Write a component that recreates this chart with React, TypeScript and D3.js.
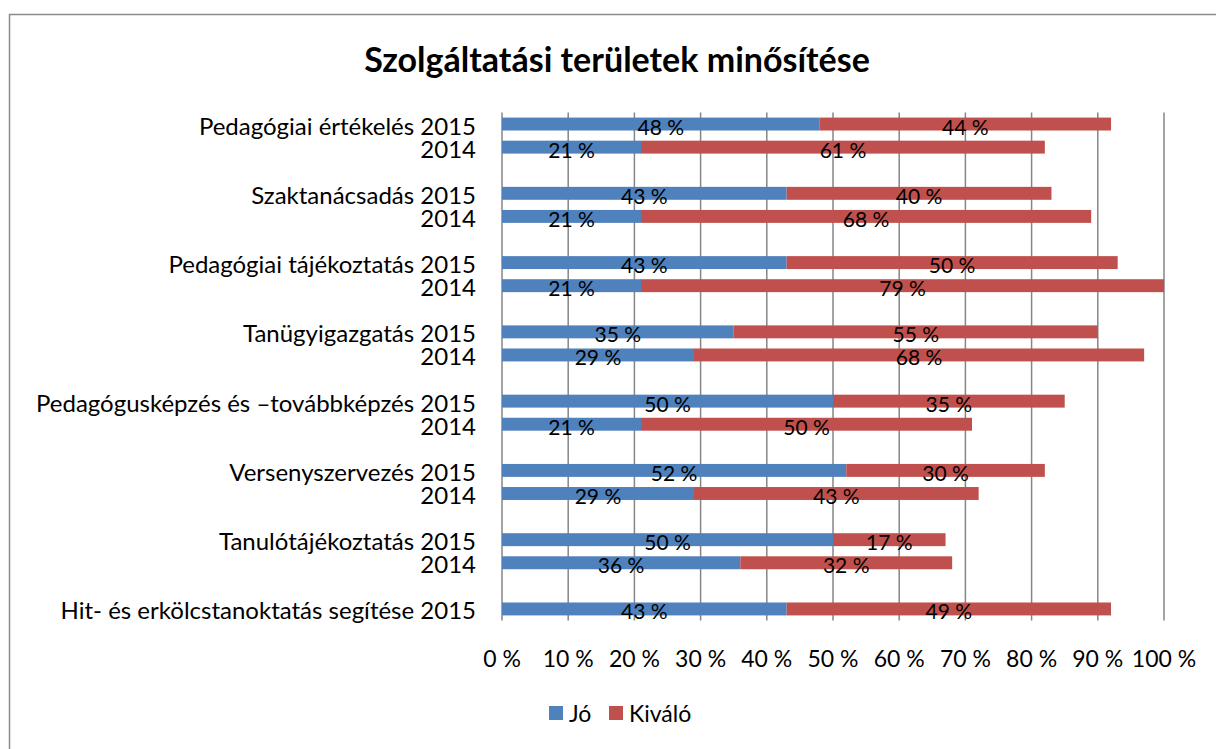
import * as d3 from "d3";
import { useRef, useEffect } from "react";

// row labels (empty strings = gap rows between groups)
const rowLabels: string[] = [
  "Pedagógiai értékelés 2015", "2014", "",
  "Szaktanácsadás 2015", "2014", "",
  "Pedagógiai tájékoztatás 2015", "2014", "",
  "Tanügyigazgatás 2015", "2014", "",
  "Pedagógusképzés és –továbbképzés 2015", "2014", "",
  "Versenyszervezés 2015", "2014", "",
  "Tanulótájékoztatás 2015", "2014", "",
  "Hit- és erkölcstanoktatás segítése 2015",
];
const jo: (number | null)[] = [
  48, 21, null, 43, 21, null, 43, 21, null, 35, 29, null, 50, 21, null, 52, 29, null, 50, 36, null, 43,
];
const kivalo: (number | null)[] = [
  44, 61, null, 40, 68, null, 50, 79, null, 55, 68, null, 35, 50, null, 30, 43, null, 17, 32, null, 49,
];
const seriesNames: string[] = ["Jó", "Kiváló"];
const seriesColors: string[] = ["#4F81BD", "#C0504D"];
const xTicks: number[] = [0, 10, 20, 30, 40, 50, 60, 70, 80, 90, 100];

export default function App() {
  const svgRef: any = useRef();

  useEffect(() => {
    const w = 1216;
    const h = 749;
    const font = "Lato, 'Noto Sans', sans-serif";
    const svg = d3.select(svgRef.current).attr("width", w).attr("height", h);
    svg.selectAll("*").remove();

    // chart frame
    svg
      .append("rect")
      .attr("x", 9.5)
      .attr("y", 14.5)
      .attr("width", 1220)
      .attr("height", 760)
      .attr("fill", "white")
      .attr("stroke", "#8c8c8c")
      .attr("stroke-width", 1.5);

    svg
      .append("text")
      .attr("x", 617)
      .attr("y", 58)
      .attr("text-anchor", "middle")
      .attr("dominant-baseline", "central")
      .style("font-family", font)
      .style("font-weight", "bold")
      .style("font-size", "34px")
      .text("Szolgáltatási területek minősítése");

    const left = 502;
    const right = 1164;
    const top = 112.5;
    const bottom = 620.5;

    const xScale = d3.scaleLinear().domain([0, 100]).range([left, right]);
    const keys = rowLabels.map((_, i) => String(i));
    const yScale = d3.scaleBand().domain(keys).range([top, bottom]).paddingInner(0.44).paddingOuter(0.22);

    // gridlines
    svg
      .append("g")
      .selectAll("line")
      .data(xTicks)
      .join("line")
      .attr("x1", (d) => xScale(d))
      .attr("x2", (d) => xScale(d))
      .attr("y1", top)
      .attr("y2", bottom)
      .attr("stroke", "#868686")
      .attr("stroke-width", 1.5);

    // stacked segments
    const rows = rowLabels.map((label, i) => ({ key: String(i), label, vals: [jo[i], kivalo[i]] }));
    const segs: any[] = [];
    rows.forEach((r) => {
      let start = 0;
      r.vals.forEach((v, s) => {
        if (v == null) return;
        segs.push({ key: r.key, s, x0: start, x1: start + v, v });
        start += v;
      });
    });

    svg
      .append("g")
      .selectAll("rect")
      .data(segs)
      .join("rect")
      .attr("x", (d) => xScale(d.x0))
      .attr("y", (d) => yScale(d.key)!)
      .attr("width", (d) => xScale(d.x1) - xScale(d.x0))
      .attr("height", yScale.bandwidth())
      .attr("fill", (d) => seriesColors[d.s]);

    svg
      .append("g")
      .selectAll("text")
      .data(segs)
      .join("text")
      .attr("x", (d) => xScale((d.x0 + d.x1) / 2))
      .attr("y", (d) => yScale(d.key)! + yScale.bandwidth() / 2 + 2)
      .attr("text-anchor", "middle")
      .attr("dominant-baseline", "central")
      .style("font-family", font)
      .style("font-size", "21px")
      .text((d) => `${d.v} %`);

    // category labels
    svg
      .append("g")
      .selectAll("text")
      .data(rows.filter((r) => r.label))
      .join("text")
      .attr("x", 476)
      .attr("y", (d) => yScale(d.key)! + yScale.bandwidth() / 2 + 1)
      .attr("text-anchor", "end")
      .attr("dominant-baseline", "central")
      .style("font-family", font)
      .style("font-size", "24px")
      .text((d) => d.label);

    // x tick labels
    svg
      .append("g")
      .selectAll("text")
      .data(xTicks)
      .join("text")
      .attr("x", (d) => xScale(d))
      .attr("y", 658)
      .attr("text-anchor", "middle")
      .attr("dominant-baseline", "central")
      .style("font-family", font)
      .style("font-size", "23px")
      .text((d) => `${d} %`);

    // legend
    const legendX = [549, 609];
    const lg = svg
      .append("g")
      .selectAll("g")
      .data(seriesNames)
      .join("g")
      .attr("transform", (_, i) => `translate(${legendX[i]}, 713)`);
    lg.append("rect")
      .attr("x", 0)
      .attr("y", -7)
      .attr("width", 14)
      .attr("height", 14)
      .attr("fill", (_, i) => seriesColors[i]);
    lg.append("text")
      .attr("x", 20)
      .attr("y", 0)
      .attr("dominant-baseline", "central")
      .style("font-family", font)
      .style("font-size", "23px")
      .text((d) => d);
  }, []);

  return (
    <div style={{ position: "absolute", left: 0, top: 0 }}>
      <svg ref={svgRef}></svg>
    </div>
  );
}
